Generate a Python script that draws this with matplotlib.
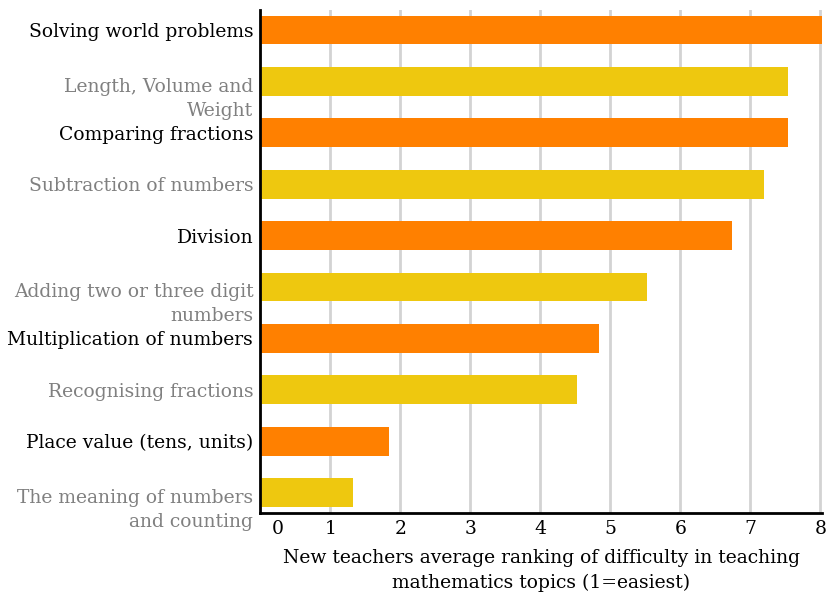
import numpy as np
from matplotlib import pyplot as plt

# topics, top to bottom
topics = ['Solving world problems',
          'Length, Volume and\nWeight',
          'Comparing fractions',
          'Subtraction of numbers',
          'Division',
          'Adding two or three digit\nnumbers',
          'Multiplication of numbers',
          'Recognising fractions',
          'Place value (tens, units)',
          'The meaning of numbers\nand counting']
scores = [8.05, 7.53, 7.53, 7.2, 6.73, 5.53, 4.84, 4.52, 1.84, 1.33]
xticks = [0, 1, 2, 3, 4, 5, 6, 7, 8]

orange = '#FF8000'
yellow = '#EEC80F'

plt.rcParams['font.family'] = ['DejaVu Serif']
fs = 13.5

fig = plt.figure(figsize=(8.26, 5.96), dpi=100)
ax = fig.add_axes([0.315, 0.139, 0.68, 0.845])

y = np.arange(len(topics))
colors = [orange if i % 2 == 0 else yellow for i in range(len(topics))]
ax.barh(y, scores, height=0.56, color=colors, zorder=2)

ax.set_xlim(0, 8.02)
ax.set_ylim(9.4, -0.4)

# first line of a wrapped label sits on the bar centre
labels = [(' \n' + t) if '\n' in t else t for t in topics]
ax.set_yticks(y)
ax.set_yticklabels(labels, fontsize=fs, linespacing=1.45)
for i, lab in enumerate(ax.get_yticklabels()):
    lab.set_color('black' if i % 2 == 0 else '#808080')

ax.set_xticks(xticks)
xlabs = [str(v) for v in xticks]
xlabs[0] = '  0'  # the 0 sits right of the axis in the original
ax.set_xticklabels(xlabs, fontsize=fs)
ax.get_xticklabels()[0].set_horizontalalignment('left')

ax.tick_params(axis='both', length=0)
ax.tick_params(axis='y', pad=5)
ax.tick_params(axis='x', pad=5)

ax.xaxis.grid(True, color='#D3D3D3', linewidth=2, zorder=0)
ax.set_axisbelow(True)

for s in ['top', 'right']:
    ax.spines[s].set_visible(False)
ax.spines['left'].set_linewidth(2)
ax.spines['bottom'].set_linewidth(2)

ax.set_xlabel('New teachers average ranking of difficulty in teaching\nmathematics topics (1=easiest)',
              fontsize=fs, labelpad=8, linespacing=1.45)

fig.savefig('out.png', dpi=100)
